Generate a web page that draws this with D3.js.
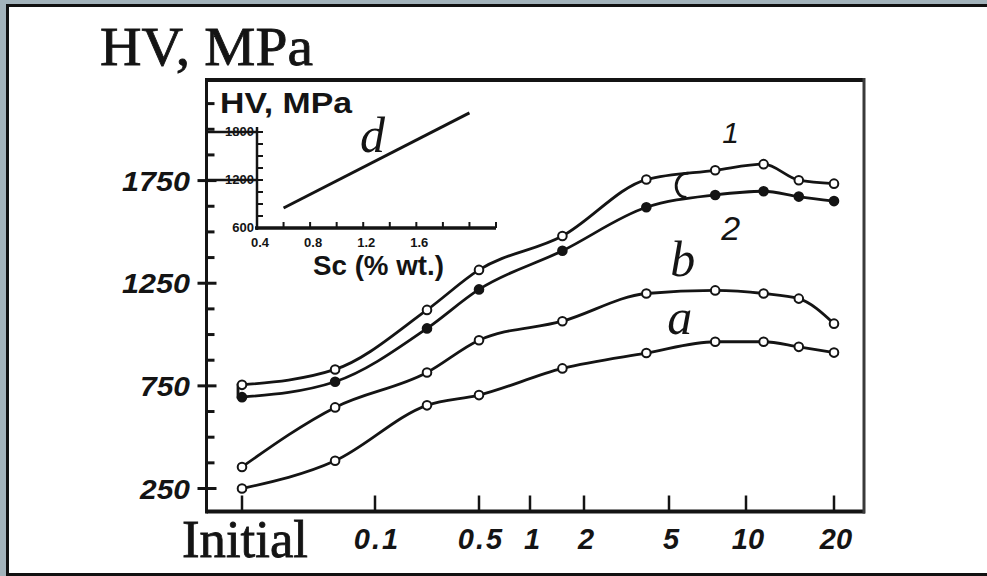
<!DOCTYPE html>
<html><head><meta charset="utf-8">
<script src="https://cdn.jsdelivr.net/npm/d3@7"></script>
<style>html,body{margin:0;padding:0;background:#a3b3bb}svg{display:block}</style>
</head><body>
<svg id="chart" width="987" height="576"></svg>
<script>
// ---------------- data ----------------
const xTickValues = [0, 0.1, 0.5, 1, 2, 5, 10, 20];
const xTickLabels = ["Initial", "0.1", "0.5", "1", "2", "5", "10", "20"];
const xValues     = [0, 0.07, 0.3, 0.5, 1.6, 4.2, 8, 12, 16, 20];
const seriesA = [250, 385, 655, 705, 835, 910, 965, 965, 940, 912];
const seriesB = [355, 645, 815, 972, 1065, 1200, 1215, 1200, 1175, 1053];
const series1 = [755, 830, 1120, 1315, 1480, 1755, 1800, 1830, 1752, 1735];
const series2 = [695, 770, 1030, 1220, 1408, 1620, 1680, 1698, 1672, 1650];
const yTickLabels = [250, 750, 1250, 1750];
const insetXTickLabels = [0.4, 0.8, 1.2, 1.6];
const insetYTickLabels = [600, 1200, 1800];
const insetDx = [0.6, 2.0];
const insetDy = [850, 2040];

// ---------------- layout ----------------
const W = 987, H = 576;
const plot = {left: 206.5, right: 864, top: 80, bottom: 511.5};
const xRange = [242, 375, 479, 530, 584, 669, 746, 834];
const svg = d3.select("#chart");

const x = d3.scaleLinear().domain(xTickValues).range(xRange);
const y = d3.scaleLinear().domain([138, 2240]).range([plot.bottom, plot.top]);
const ix = d3.scaleLinear().domain([0.4, 2.2]).range([257, 496]);
const iy = d3.scaleLinear().domain([600, 1800]).range([228, 132]);

const INK = "#141414";
const SANS = "Liberation Sans, Arial, sans-serif";
const SERIF = "Liberation Serif, Times New Roman, serif";

// page frame
svg.append("rect").attr("x", 0).attr("y", 0).attr("width", W).attr("height", H).attr("fill", "#a3b3bb");
svg.append("rect").attr("x", 6).attr("y", 4).attr("width", W - 6).attr("height", H - 4).attr("fill", "#111");
svg.append("rect").attr("x", 9).attr("y", 7).attr("width", W - 9).attr("height", 566).attr("fill", "#fff");

// title
svg.append("text").attr("x", 100).attr("y", 65)
  .attr("font-family", SERIF).attr("font-size", 55)
  .attr("textLength", 213).attr("lengthAdjust", "spacingAndGlyphs")
  .attr("fill", INK).attr("stroke", INK).attr("stroke-width", 0.8).text("HV, MPa");

// main frame
const frame = svg.append("g").attr("stroke", INK).attr("fill", "none");
frame.append("line").attr("x1", plot.left).attr("x2", plot.right + 1).attr("y1", plot.top).attr("y2", plot.top).attr("stroke-width", 4);
frame.append("line").attr("x1", plot.left).attr("x2", plot.right + 1).attr("y1", plot.bottom).attr("y2", plot.bottom).attr("stroke-width", 4);
frame.append("line").attr("x1", plot.left).attr("x2", plot.left).attr("y1", plot.top - 2).attr("y2", plot.bottom + 2).attr("stroke-width", 3);
frame.append("line").attr("x1", plot.right).attr("x2", plot.right).attr("y1", plot.top - 2).attr("y2", plot.bottom + 2).attr("stroke-width", 3).attr("stroke", "#3a3a3a");

// y ticks
const minorY = d3.range(250, 2126, 125);
svg.append("g").selectAll("line").data(minorY).join("line")
  .attr("x1", d => yTickLabels.includes(d) ? plot.left - 9 : plot.left)
  .attr("x2", d => yTickLabels.includes(d) ? plot.left + 10 : plot.left + 8)
  .attr("y1", d => y(d)).attr("y2", d => y(d))
  .attr("stroke", INK).attr("stroke-width", 3);
svg.append("g").selectAll("text").data(yTickLabels).join("text")
  .attr("x", 190).attr("y", d => y(d) + 10)
  .attr("text-anchor", "end")
  .attr("font-family", SANS).attr("font-weight", "bold").attr("font-style", "italic")
  .attr("font-size", 27)
  .attr("textLength", d => String(d).length === 4 ? 68 : 50).attr("lengthAdjust", "spacingAndGlyphs")
  .attr("fill", INK).text(d => d);

// x ticks
svg.append("g").selectAll("line").data(xTickValues).join("line")
  .attr("x1", d => x(d)).attr("x2", d => x(d))
  .attr("y1", plot.bottom).attr("y2", plot.bottom - 16)
  .attr("stroke", INK).attr("stroke-width", 2.5);
svg.append("g").selectAll("text").data(xTickValues.slice(1)).join("text")
  .attr("x", d => x(d) + 2).attr("y", 549)
  .attr("text-anchor", "middle")
  .attr("font-family", SANS).attr("font-weight", "bold").attr("font-style", "italic")
  .attr("font-size", 29).attr("fill", INK)
  .attr("letter-spacing", (d, i) => xTickLabels[i + 1].includes(".") ? 2 : 0)
  .text((d, i) => xTickLabels[i + 1]);
svg.append("text").attr("x", 182).attr("y", 557)
  .attr("font-family", SERIF).attr("font-size", 52)
  .attr("textLength", 126).attr("lengthAdjust", "spacingAndGlyphs")
  .attr("fill", INK).attr("stroke", INK).attr("stroke-width", 0.8).text(xTickLabels[0]);

// ---------------- inset ----------------
const inset = svg.append("g");
inset.selectAll("line.conn").data(insetYTickLabels.slice(1)).join("line").attr("class", "conn")
  .attr("x1", plot.left).attr("x2", ix(0.4)).attr("y1", d => iy(d)).attr("y2", d => iy(d))
  .attr("stroke", INK).attr("stroke-width", 2.5);
inset.append("line").attr("x1", ix(0.4)).attr("x2", ix(0.4)).attr("y1", 127).attr("y2", iy(600) + 2)
  .attr("stroke", INK).attr("stroke-width", 2.5);
inset.append("line").attr("x1", ix(0.4) - 2).attr("x2", ix(2.2)).attr("y1", iy(600)).attr("y2", iy(600))
  .attr("stroke", INK).attr("stroke-width", 3.5);
inset.selectAll("line.ytk").data(d3.range(600, 1801, 150)).join("line").attr("class", "ytk")
  .attr("x1", ix(0.4)).attr("x2", ix(0.4) + 6).attr("y1", d => iy(d)).attr("y2", d => iy(d))
  .attr("stroke", INK).attr("stroke-width", 2);
inset.selectAll("line.xtk").data(d3.range(0.6, 2.21, 0.2)).join("line").attr("class", "xtk")
  .attr("x1", d => ix(d)).attr("x2", d => ix(d)).attr("y1", iy(600)).attr("y2", iy(600) - 6)
  .attr("stroke", INK).attr("stroke-width", 2);
inset.selectAll("text.ylab").data(insetYTickLabels).join("text").attr("class", "ylab")
  .attr("x", ix(0.4) - 3).attr("y", d => iy(d) + 4)
  .attr("text-anchor", "end")
  .attr("font-family", SANS).attr("font-weight", "bold")
  .attr("font-size", 13).attr("fill", INK).text(d => d);
inset.selectAll("text.xlab").data(insetXTickLabels).join("text").attr("class", "xlab")
  .attr("x", d => ix(d) + 3).attr("y", 247)
  .attr("text-anchor", "middle")
  .attr("font-family", SANS).attr("font-weight", "bold")
  .attr("font-size", 13).attr("fill", INK).text(d => d.toFixed(1));
inset.append("text").attr("x", 220).attr("y", 113)
  .attr("font-family", SANS).attr("font-weight", "bold")
  .attr("font-size", 29).attr("textLength", 132).attr("lengthAdjust", "spacingAndGlyphs")
  .attr("fill", INK).text("HV, MPa");
inset.append("text").attr("x", 313).attr("y", 275)
  .attr("font-family", SANS).attr("font-weight", "bold")
  .attr("font-size", 28).attr("textLength", 131).attr("lengthAdjust", "spacingAndGlyphs")
  .attr("fill", INK).text("Sc (% wt.)");
inset.append("line")
  .attr("x1", ix(insetDx[0])).attr("y1", iy(insetDy[0]))
  .attr("x2", ix(insetDx[1])).attr("y2", iy(insetDy[1]))
  .attr("stroke", INK).attr("stroke-width", 3);
inset.append("text").attr("x", ix(1.27)).attr("y", iy(1550))
  .attr("text-anchor", "middle")
  .attr("font-family", SERIF).attr("font-style", "italic")
  .attr("font-size", 50).attr("fill", INK).text("d");

// ---------------- curves ----------------
const line = d3.line().x(d => x(d[0])).y(d => y(d[1])).curve(d3.curveMonotoneX);
const series = [
  {vals: seriesA, filled: false},
  {vals: seriesB, filled: false},
  {vals: series1, filled: false},
  {vals: series2, filled: true}
];
const curves = svg.append("g");
series.forEach(s => {
  const pts = xValues.map((xv, i) => [xv, s.vals[i]]);
  curves.append("path").attr("d", line(pts))
    .attr("fill", "none").attr("stroke", INK).attr("stroke-width", 2.8);
});

function interp(vals, xv) {
  for (let i = 0; i < xValues.length - 1; i++) {
    if (xv >= xValues[i] && xv <= xValues[i + 1]) {
      const t = (xv - xValues[i]) / (xValues[i + 1] - xValues[i]);
      return vals[i] + t * (vals[i + 1] - vals[i]);
    }
  }
  return vals[vals.length - 1];
}
{
  const x0 = x(0), yt = y(series1[0]), yb = y(series2[0]);
  curves.append("path")
    .attr("d", `M${x0 + 4},${yt} L${x0 - 4},${yt} L${x0 - 4},${yb} L${x0 + 4},${yb}`)
    .attr("fill", "none").attr("stroke", INK).attr("stroke-width", 2.8);
  const xc = x(6), ct = y(interp(series1, 6)) - 2, cb = y(interp(series2, 6)) - 4;
  curves.append("path")
    .attr("d", `M${xc + 4},${ct} C${xc - 12},${ct} ${xc - 12},${cb} ${xc + 2},${cb}`)
    .attr("fill", "none").attr("stroke", INK).attr("stroke-width", 2.8);
}

series.forEach(s => {
  curves.append("g").selectAll("circle").data(xValues.map((xv, i) => [xv, s.vals[i]])).join("circle")
    .attr("cx", d => x(d[0])).attr("cy", d => y(d[1])).attr("r", 4.3)
    .attr("fill", s.filled ? INK : "#fff").attr("stroke", INK).attr("stroke-width", 2);
});

// curve labels (positioned in data units)
const curveLabels = [
  {t: "1", xv: 9, yv: 1933, size: 30, fam: SANS},
  {t: "2", xv: 9, yv: 1460, size: 34, fam: SANS},
  {t: "b", xv: 5.9, yv: 1285, size: 50, fam: SERIF},
  {t: "a", xv: 5.7, yv: 1003, size: 50, fam: SERIF}
];
svg.append("g").selectAll("text").data(curveLabels).join("text")
  .attr("x", d => x(d.xv)).attr("y", d => y(d.yv))
  .attr("text-anchor", "middle")
  .attr("font-family", d => d.fam).attr("font-style", "italic")
  .attr("font-size", d => d.size).attr("fill", INK).text(d => d.t);
</script>
</body></html>
